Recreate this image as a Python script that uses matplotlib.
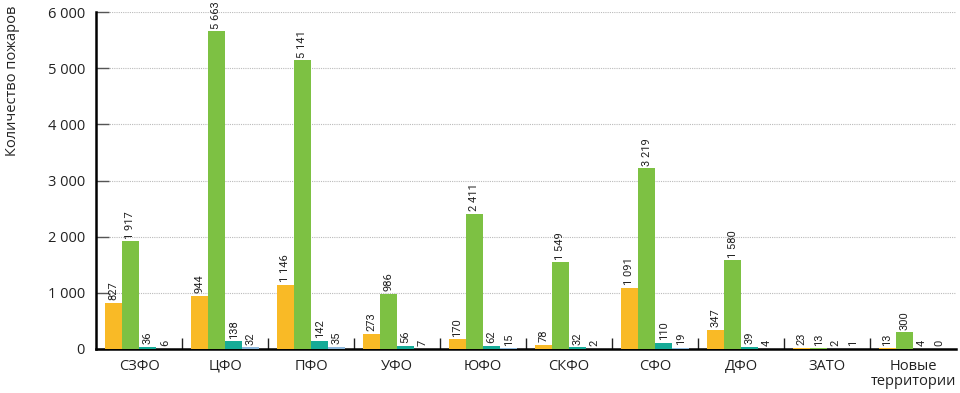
import matplotlib
matplotlib.use("Agg")
import matplotlib.pyplot as plt
import numpy as np
from matplotlib.ticker import FixedLocator

# данные
regions = ["СЗФО", "ЦФО", "ПФО", "УФО", "ЮФО", "СКФО", "СФО", "ДФО", "ЗАТО",
           "Новые\nтерритории"]
series_1 = [827, 944, 1146, 273, 170, 78, 1091, 347, 23, 13]
series_2 = [1917, 5663, 5141, 986, 2411, 1549, 3219, 1580, 13, 300]
series_3 = [36, 138, 142, 56, 62, 32, 110, 39, 2, 4]
series_4 = [6, 32, 35, 7, 15, 2, 19, 4, 1, 0]
y_ticks = [0, 1000, 2000, 3000, 4000, 5000, 6000]

colors = ["#F9BA26", "#7DC143", "#16AB97", "#8CB8DC"]

plt.rcParams["font.family"] = ["Open Sans", "DejaVu Sans"]


def fmt(v):
    return f"{v:,}".replace(",", " ")


fig = plt.figure(figsize=(9.6, 3.93), dpi=100)
ax = fig.add_axes([0.1, 0.112, 0.896, 0.857])

x = np.arange(len(regions)) + 0.5
width = 0.2
offsets = [-0.3, -0.1, 0.1, 0.3]

for vals, off, col in zip([series_1, series_2, series_3, series_4], offsets, colors):
    bars = ax.bar(x + off, vals, width * 0.98, color=col, zorder=3)
    for b, v in zip(bars, vals):
        ax.text(b.get_x() + b.get_width() / 2, v + 45, fmt(v),
                rotation=90, ha="center", va="bottom", fontsize=8,
                family=["Roboto", "DejaVu Sans"], color="#222222", zorder=4)

ax.set_xlim(0, len(regions))
ax.set_ylim(0, 6000)

ax.set_yticks(y_ticks)
ax.set_yticklabels([fmt(t) for t in y_ticks], fontsize=10.5, color="#222222")
ax.tick_params(axis="y", direction="in", length=9, width=1, color="#555555", pad=8)
ax.yaxis.grid(True, linestyle=(0, (1, 1)), color="#bbbbbb", linewidth=0.8, zorder=0)

ax.xaxis.set_major_locator(FixedLocator(np.arange(1, len(regions))))
ax.xaxis.set_ticklabels([])
ax.tick_params(axis="x", which="major", direction="in", length=8, width=1, color="#222222")
ax.set_xticks(x, minor=True)
ax.set_xticklabels(regions, minor=True, fontsize=10.5, linespacing=1.0, va="top",
                   color="#222222")
ax.tick_params(axis="x", which="minor", length=0, pad=7)

for s in ["top", "right"]:
    ax.spines[s].set_visible(False)
ax.spines["left"].set_linewidth(1.8)
ax.spines["bottom"].set_linewidth(1.8)

fig.text(5 / 960, 0.795, "Количество пожаров", rotation=90, ha="left", va="center",
         fontsize=10.5, color="#222222")

fig.savefig("out.png", dpi=100)
